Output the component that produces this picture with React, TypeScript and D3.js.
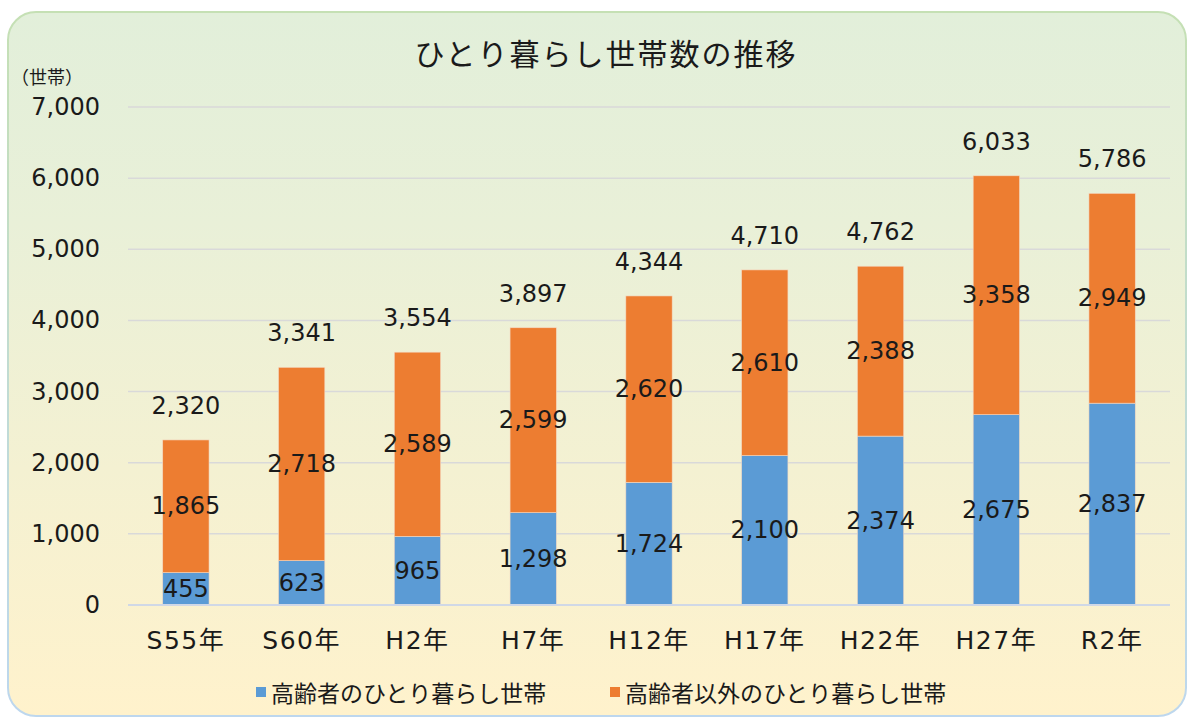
import React from 'react';
import * as d3 from 'd3';

// categories and series (世帯)
const years = ['S55年', 'S60年', 'H2年', 'H7年', 'H12年', 'H17年', 'H22年', 'H27年', 'R2年'];
const elderly = [455, 623, 965, 1298, 1724, 2100, 2374, 2675, 2837];
const others = [1865, 2718, 2589, 2599, 2620, 2610, 2388, 3358, 2949];
const yTicks = [0, 1000, 2000, 3000, 4000, 5000, 6000, 7000];

const seriesNames = ['高齢者のひとり暮らし世帯', '高齢者以外のひとり暮らし世帯'];
const colors = ['#5B9BD5', '#ED7D31'];

const W = 1189;
const H = 720;
const NUM_FONT = '"DejaVu Sans", "Noto Sans CJK JP", sans-serif';
const JP_FONT = '"Noto Sans CJK JP", sans-serif';

const App = () => {
  const rows = years.map((y, i) => ({ year: y, a: elderly[i], b: others[i] }));
  const stacked = d3.stack<any>().keys(['a', 'b'])(rows);

  const x = d3.scaleBand().domain(years).range([128, 1170]).paddingInner(0.6).paddingOuter(0.3);
  const y = d3.scaleLinear().domain([0, 7000]).range([605, 107]);
  const fmt = d3.format(',');

  return (
    <div style={{ position: 'absolute', left: 0, top: 0 }}>
      <svg width={W} height={H} viewBox={`0 0 ${W} ${H}`}>
        <defs>
          <linearGradient id="bg" x1="0" y1="0" x2="0" y2="1">
            <stop offset="0" stopColor="#E2EFDA" />
            <stop offset="0.3" stopColor="#E9F0D8" />
            <stop offset="1" stopColor="#FFF2CC" />
          </linearGradient>
          <linearGradient id="edge" x1="0" y1="0" x2="0" y2="1">
            <stop offset="0" stopColor="#C5E0B4" />
            <stop offset="1" stopColor="#BDD7EE" />
          </linearGradient>
        </defs>
        <rect x={8} y={12} width={1178} height={704} rx={28} ry={28}
          fill="url(#bg)" stroke="url(#edge)" strokeWidth={2} />

        {/* title */}
        <text x={606} y={52} textAnchor="middle" dominantBaseline="central"
          fontFamily={JP_FONT} fontSize={30} letterSpacing={2} fill="#1a1a1a">
          ひとり暮らし世帯数の推移
        </text>
        <text x={11} y={76} dominantBaseline="central" fontFamily={JP_FONT} fontSize={18} fill="#1a1a1a">
          （世帯）
        </text>

        {/* grid + y axis */}
        {yTicks.map(t => (
          <g key={t}>
            {t > 0 && (
              <line x1={128} x2={1170} y1={y(t)} y2={y(t)} stroke="#D9D9D9" strokeWidth={1.5} />
            )}
            <text x={100} y={y(t)} textAnchor="end" dominantBaseline="central"
              fontFamily={NUM_FONT} fontSize={24} fill="#1a1a1a">
              {fmt(t)}
            </text>
          </g>
        ))}

        {/* bars */}
        {stacked.map((s, si) => (
          <g key={si}>
            {s.map((d, i) => (
              <rect key={i} x={x(years[i])} y={y(d[1])} width={x.bandwidth()}
                height={y(d[0]) - y(d[1])} fill={colors[si]} stroke="#F4D9C4" strokeWidth={0.6} />
            ))}
          </g>
        ))}

        {/* baseline */}
        <line x1={128} x2={1170} y1={y(0)} y2={y(0)} stroke="#D0D8E6" strokeWidth={2} />

        {/* segment labels */}
        {stacked.map((s, si) => (
          <g key={'l' + si}>
            {s.map((d, i) => (
              <text key={i} x={x(years[i])! + x.bandwidth() / 2} y={y((d[0] + d[1]) / 2)}
                textAnchor="middle" dominantBaseline="central"
                fontFamily={NUM_FONT} fontSize={24} fill="#1a1a1a">
                {fmt(d[1] - d[0])}
              </text>
            ))}
          </g>
        ))}

        {/* totals */}
        {rows.map((r, i) => (
          <text key={'t' + i} x={x(r.year)! + x.bandwidth() / 2} y={y(r.a + r.b) - 34}
            textAnchor="middle" dominantBaseline="central"
            fontFamily={NUM_FONT} fontSize={24} fill="#1a1a1a">
            {fmt(r.a + r.b)}
          </text>
        ))}

        {/* x labels */}
        {years.map(yr => (
          <text key={yr} x={x(yr)! + x.bandwidth() / 2} y={640} textAnchor="middle"
            dominantBaseline="central" fontFamily={NUM_FONT} fontSize={25} letterSpacing={1.5} fill="#1a1a1a">
            {yr}
          </text>
        ))}

        {/* legend */}
        {seriesNames.map((n, i) => {
          const lx = i === 0 ? 256 : 610;
          return (
            <g key={n}>
              <rect x={lx} y={687} width={10} height={10} fill={colors[i]} />
              <text x={lx + 15} y={692} dominantBaseline="central" fontFamily={JP_FONT}
                fontSize={23} fill="#1a1a1a">
                {n}
              </text>
            </g>
          );
        })}
      </svg>
    </div>
  );
};

export default App;
